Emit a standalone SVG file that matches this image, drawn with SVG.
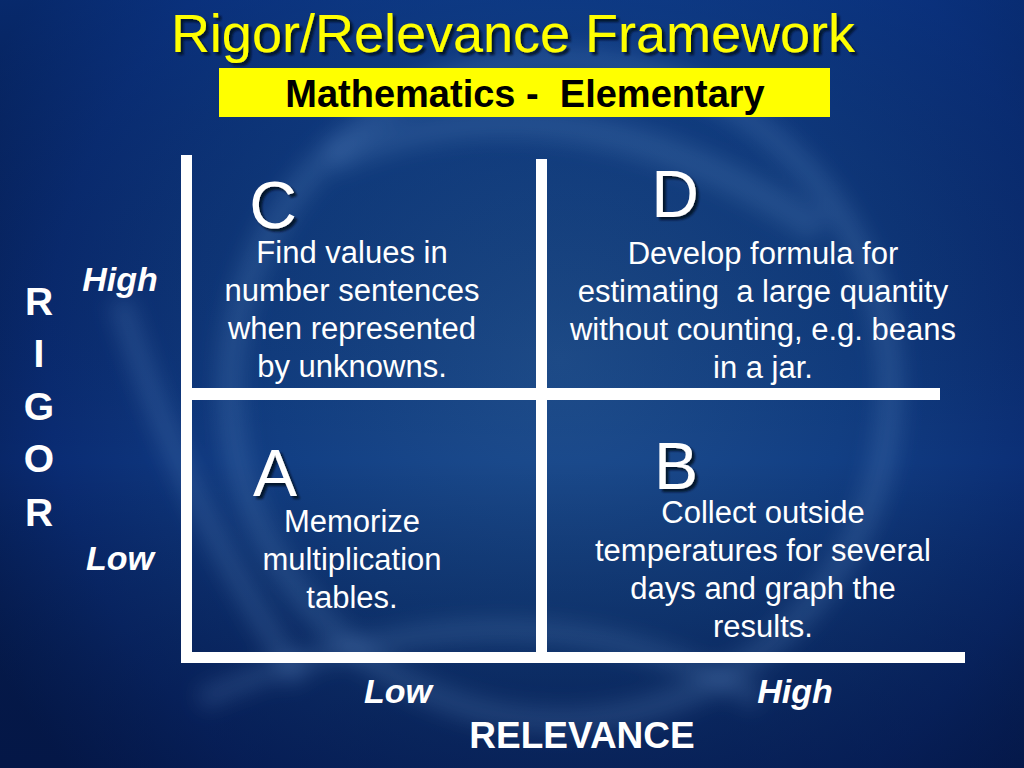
<svg xmlns="http://www.w3.org/2000/svg" width="1024" height="768" viewBox="0 0 1024 768">
  <defs>
    <radialGradient id="bg" cx="560" cy="360" r="640" gradientUnits="userSpaceOnUse">
      <stop offset="0" stop-color="#1f4f8f"/>
      <stop offset="0.45" stop-color="#123f84"/>
      <stop offset="0.8" stop-color="#0a2c74"/>
      <stop offset="1" stop-color="#06205a"/>
    </radialGradient>
    <linearGradient id="shade" x1="0" y1="0" x2="0" y2="1">
      <stop offset="0" stop-color="#0a3a8c" stop-opacity="0.35"/>
      <stop offset="0.6" stop-color="#000000" stop-opacity="0"/>
      <stop offset="1" stop-color="#020c30" stop-opacity="0.45"/>
    </linearGradient>
    <filter id="blur" x="-20%" y="-20%" width="140%" height="140%">
      <feGaussianBlur stdDeviation="10"/>
    </filter>
    <filter id="sh" x="-20%" y="-20%" width="140%" height="140%">
      <feDropShadow dx="3" dy="3" stdDeviation="1.2" flood-color="#000820" flood-opacity="0.85"/>
    </filter>
    <style>
      .body { font-family: "Liberation Sans", Arial, sans-serif; font-size: 31px; fill: #ffffff; text-anchor: middle; }
      .letter { font-family: "Liberation Sans", Arial, sans-serif; font-size: 66px; fill: #ffffff; text-anchor: middle; filter: url(#sh); }
      .axis { font-family: "Liberation Sans", Arial, sans-serif; font-size: 34px; font-weight: bold; font-style: italic; fill: #ffffff; text-anchor: middle; }
      .rigor { font-family: "Liberation Sans", Arial, sans-serif; font-size: 39px; font-weight: bold; fill: #ffffff; text-anchor: middle; }
      .line { fill: #ffffff; }
    </style>
  </defs>

  <!-- background -->
  <rect x="0" y="0" width="1024" height="768" fill="url(#bg)"/>
  <rect x="0" y="0" width="1024" height="768" fill="url(#shade)"/>
  <g fill="none" stroke="#6f9ad0" stroke-opacity="0.2" filter="url(#blur)">
    <circle cx="560" cy="390" r="330" stroke-width="26"/>
    <path d="M 330 160 Q 560 60 820 230" stroke-width="30"/>
    <path d="M 200 700 Q 520 560 760 700" stroke-width="22"/>
    <path d="M 120 300 Q 180 500 300 680" stroke-width="24"/>
  </g>

  <!-- title -->
  <g id="title">
    <text x="513" y="52" font-family="Liberation Sans, Arial, sans-serif" font-size="54" fill="#ffff00" text-anchor="middle" filter="url(#sh)">Rigor/Relevance Framework</text>
  </g>
  <g id="subtitle">
    <rect x="219" y="68" width="611" height="49" fill="#ffff00"/>
    <text x="525" y="107" font-family="Liberation Sans, Arial, sans-serif" font-size="38" font-weight="bold" fill="#000000" text-anchor="middle" xml:space="preserve">Mathematics -  Elementary</text>
  </g>

  <!-- grid lines -->
  <g id="grid">
    <rect class="line" x="181" y="155" width="11" height="508"/>
    <rect class="line" x="536" y="159" width="11" height="494"/>
    <rect class="line" x="192" y="388" width="748" height="12"/>
    <rect class="line" x="181" y="652" width="784" height="11"/>
  </g>

  <!-- quadrants -->
  <g id="quadrant-c">
    <text class="letter" x="273" y="228">C</text>
    <text class="body" x="352" y="263">Find values in</text>
    <text class="body" x="352" y="301">number sentences</text>
    <text class="body" x="352" y="339">when represented</text>
    <text class="body" x="352" y="377">by unknowns.</text>
  </g>
  <g id="quadrant-d">
    <text class="letter" x="675" y="217">D</text>
    <text class="body" x="763" y="264">Develop formula for</text>
    <text class="body" x="763" y="302" xml:space="preserve">estimating  a large quantity</text>
    <text class="body" x="763" y="340">without counting, e.g. beans</text>
    <text class="body" x="763" y="378">in a jar.</text>
  </g>
  <g id="quadrant-a">
    <text class="letter" x="275" y="496">A</text>
    <text class="body" x="352" y="532">Memorize</text>
    <text class="body" x="352" y="570">multiplication</text>
    <text class="body" x="352" y="608">tables.</text>
  </g>
  <g id="quadrant-b">
    <text class="letter" x="676" y="489">B</text>
    <text class="body" x="763" y="523">Collect outside</text>
    <text class="body" x="763" y="561">temperatures for several</text>
    <text class="body" x="763" y="599">days and graph the</text>
    <text class="body" x="763" y="637">results.</text>
  </g>

  <!-- rigor axis -->
  <g id="rigor-axis">
    <text class="rigor" x="39" y="315">R</text>
    <text class="rigor" x="39" y="367">I</text>
    <text class="rigor" x="39" y="420">G</text>
    <text class="rigor" x="39" y="472">O</text>
    <text class="rigor" x="39" y="526">R</text>
    <text class="axis" x="120" y="291">High</text>
    <text class="axis" x="120" y="570">Low</text>
  </g>

  <!-- relevance axis -->
  <g id="relevance-axis">
    <text class="axis" x="398" y="703">Low</text>
    <text class="axis" x="795" y="703">High</text>
    <text x="582" y="748" font-family="Liberation Sans, Arial, sans-serif" font-size="37" font-weight="bold" fill="#ffffff" text-anchor="middle">RELEVANCE</text>
  </g>
</svg>
